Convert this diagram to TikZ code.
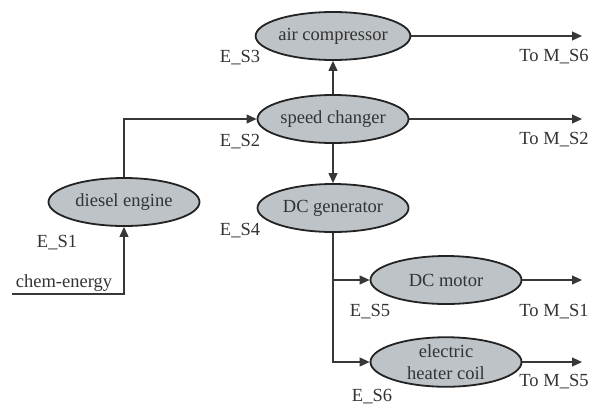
\documentclass[tikz,border=0pt]{standalone}
\usepackage{fontspec}
\setmainfont{Liberation Serif}
\usetikzlibrary{shapes.geometric,arrows.meta}
\definecolor{boxfill}{RGB}{189,195,199}
\definecolor{edge}{RGB}{35,35,35}
\definecolor{wirec}{RGB}{55,55,55}
\tikzset{
  unit/.style={ellipse,draw=edge,line width=1.8pt,fill=boxfill,minimum width=151pt,minimum height=48pt,inner sep=0pt,align=center,font=\fontsize{18.5}{22}\selectfont,text=black!80},
  lbl/.style={inner sep=0pt,font=\fontsize{18.5}{22}\selectfont,text=black!80},
  flow/.style={draw=wirec,line width=1.1pt,-{Triangle[length=10pt,width=9pt]}}
}
\begin{document}
\begin{tikzpicture}[x=1pt,y=-1pt]
\useasboundingbox (0,0) rectangle (604,405);
\node[unit] (air) at (333,36) {air compressor};
\node[unit] (speed) at (333,119) {speed changer};
\node[unit] (gen) at (333,208) {DC generator};
\node[unit] (diesel) at (124,202) {diesel engine};
\node[unit] (motor) at (446,280) {DC motor};
\node[unit] (heater) at (446,362) {electric\\heater coil};

\node[lbl] (e3) at (240,58) {E\_S3};
\node[lbl] (e2) at (240,142) {E\_S2};
\node[lbl] (e4) at (240,231) {E\_S4};
\node[lbl] (e1) at (57,243) {E\_S1};
\node[lbl] (e5) at (370,312) {E\_S5};
\node[lbl] (e6) at (372,397) {E\_S6};

\node[lbl] (t6) at (554,57) {To M\_S6};
\node[lbl] (t2) at (554,140) {To M\_S2};
\node[lbl] (t1) at (554,312) {To M\_S1};
\node[lbl] (t5) at (554,382) {To M\_S5};
\node[lbl] (chem) at (64,283) {chem-energy};

\coordinate (o6) at (582,36);
\coordinate (o2) at (582,119);
\coordinate (o1) at (582,280);
\coordinate (o5) at (582,362);
\coordinate (cin) at (12,294);

\draw[flow] (speed.north) -- (air.south);
\draw[flow] (speed.south) -- (gen.north);
\draw[flow] (diesel.north) |- (speed.west);
\draw[flow] (cin) -| (diesel.south);
\draw[flow] (gen.south) |- (motor.west);
\draw[flow] (gen.south) |- (heater.west);
\draw[flow] (air.east) -- (o6);
\draw[flow] (speed.east) -- (o2);
\draw[flow] (motor.east) -- (o1);
\draw[flow] (heater.east) -- (o5);
\end{tikzpicture}
\end{document}
